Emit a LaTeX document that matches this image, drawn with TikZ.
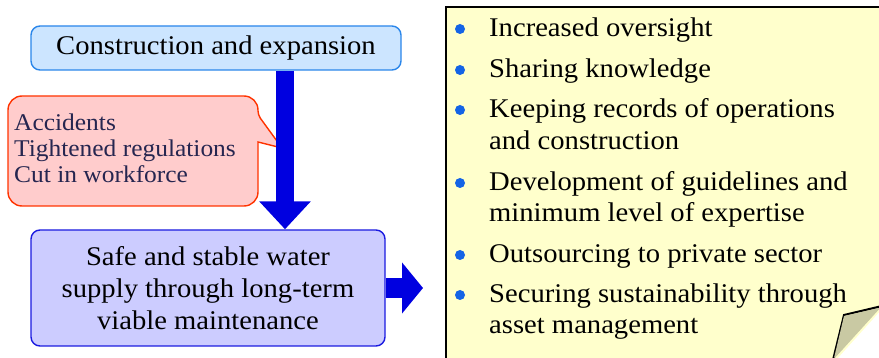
\documentclass[tikz,border=0pt]{standalone}
\usepackage{fontspec}
\setmainfont{Liberation Serif}[FakeStretch=1.06]
\usetikzlibrary{arrows.meta}

\definecolor{topfill}{HTML}{CCE5FF}
\definecolor{topline}{HTML}{2A86EA}
\definecolor{maxfill}{HTML}{CCCCFF}
\definecolor{maxline}{HTML}{1A1AE0}
\definecolor{flowblue}{HTML}{0000E0}
\definecolor{riskfill}{HTML}{FFCCCC}
\definecolor{riskline}{HTML}{FF3300}
\definecolor{risktext}{HTML}{262650}
\definecolor{notefill}{HTML}{FFFFCC}
\definecolor{foldfill}{HTML}{C9C9A3}
\definecolor{dotblue}{HTML}{1464E6}

\tikzset{
  stagebox/.style={rounded corners=9pt, line width=1.4pt, align=center,
    font=\fontsize{27}{32}\selectfont, inner sep=0pt},
  flow/.style={draw=flowblue, line width=18pt,
    -{Triangle[width=50pt 0, length=28pt 0]}},
  itemtext/.style={anchor=base west, inner sep=0pt,
    font=\fontsize{27}{32}\selectfont},
}

\begin{document}
\begin{tikzpicture}[x=1pt,y=-1pt]
\useasboundingbox (0,0) rectangle (879,358);

% note on the right
\fill[notefill] (446,7) -- (882,7) -- (882,309) -- (836,360) -- (446,360) -- cycle;
\draw[line width=2pt] (446,362) -- (446,7) -- (882,7);
\filldraw[fill=foldfill, line width=2pt, line join=miter]
  (882,306) -- (844,315) -- (833,360);
\fill[foldfill] (844,316) -- (879,308) -- (834,358) -- cycle;

% stages
\node[stagebox, draw=topline, fill=topfill, minimum width=370pt, minimum height=44pt]
  (build) at (216,48) {Construction and expansion};
\node[stagebox, draw=maxline, fill=maxfill, minimum width=354pt, minimum height=116pt]
  (keep) at (208,288) {Safe and stable water\\supply through long-term\\viable maintenance};

% callout
\draw[riskline, fill=riskfill, line width=1.4pt, rounded corners=14pt]
  (8,150) -- (8,96) -- (258,96) [rounded corners=4pt] -- (258,115) [sharp corners]
  -- (282,148) -- (258,142) [rounded corners=14pt] -- (258,206) -- (8,206) -- cycle;
\node[anchor=north west, align=left, inner sep=0pt, text=risktext,
  font=\fontsize{24}{26}\selectfont] (risk) at (14,114)
  {Accidents\\Tightened regulations\\Cut in workforce};

% arrows
\coordinate (dn) at (285,0);
\coordinate (rtip) at (423,288);
\draw[flow] (build.south -| dn) -- (keep.north -| dn);
\draw[draw=flowblue, line width=20pt, -{Triangle[width=50pt 0, length=21pt 0]}]
  (keep.east) -- (rtip);

% measures
\foreach \y/\txt in {29/Increased oversight, 70/Sharing knowledge,
    110/Keeping records of operations, 183/Development of guidelines and,
    255/Outsourcing to private sector, 295/Securing sustainability through}
{
  \fill[dotblue] (460,\y) circle (5pt);
  \node[itemtext] at (489,\y+8) {\txt};
}
\foreach \y/\txt in {142/and construction, 214/minimum level of expertise,
    326/asset management}
  \node[itemtext] at (489,\y+8) {\txt};
\end{tikzpicture}
\end{document}
